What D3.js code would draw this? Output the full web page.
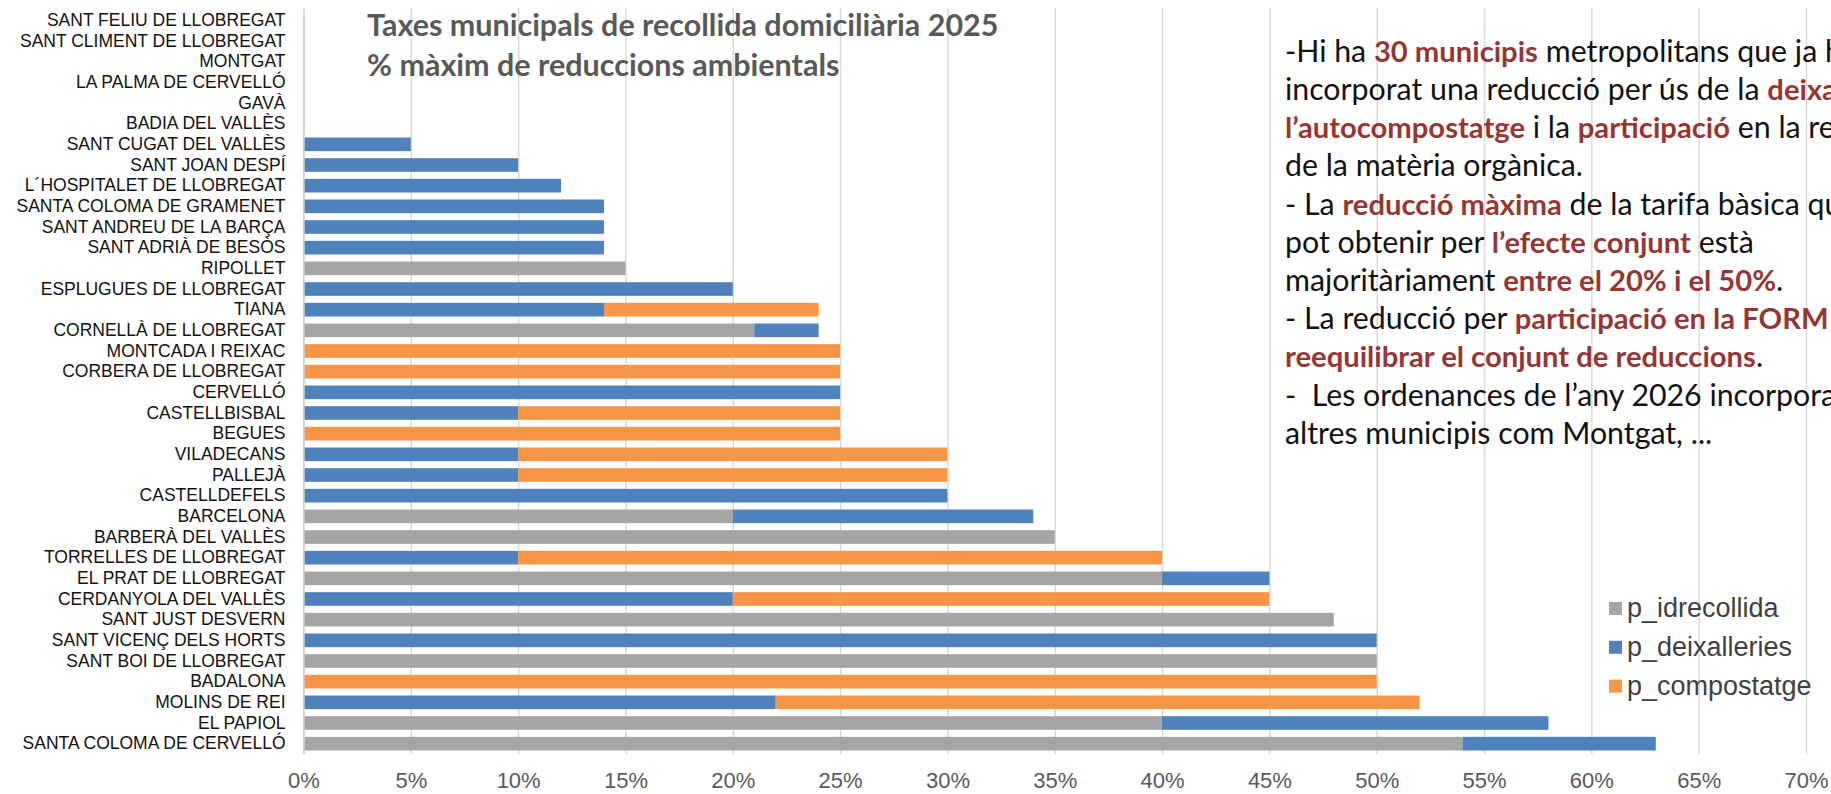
<!DOCTYPE html>
<html>
<head>
<meta charset="utf-8">
<script src="https://cdn.jsdelivr.net/npm/d3@7"></script>
<style>
  html, body { margin: 0; padding: 0; background: #fff; }
  svg { display: block; }
</style>
</head>
<body>
<div id="chart"></div>
<script>
var municipis = [
  "SANT FELIU DE LLOBREGAT", "SANT CLIMENT DE LLOBREGAT", "MONTGAT", "LA PALMA DE CERVELLÓ",
  "GAVÀ", "BADIA DEL VALLÈS", "SANT CUGAT DEL VALLÈS", "SANT JOAN DESPÍ",
  "L´HOSPITALET DE LLOBREGAT", "SANTA COLOMA DE GRAMENET", "SANT ANDREU DE LA BARÇA", "SANT ADRIÀ DE BESÒS",
  "RIPOLLET", "ESPLUGUES DE LLOBREGAT", "TIANA", "CORNELLÀ DE LLOBREGAT",
  "MONTCADA I REIXAC", "CORBERA DE LLOBREGAT", "CERVELLÓ", "CASTELLBISBAL",
  "BEGUES", "VILADECANS", "PALLEJÀ", "CASTELLDEFELS",
  "BARCELONA", "BARBERÀ DEL VALLÈS", "TORRELLES DE LLOBREGAT", "EL PRAT DE LLOBREGAT",
  "CERDANYOLA DEL VALLÈS", "SANT JUST DESVERN", "SANT VICENÇ DELS HORTS", "SANT BOI DE LLOBREGAT",
  "BADALONA", "MOLINS DE REI", "EL PAPIOL", "SANTA COLOMA DE CERVELLÓ"
];
var pIdrecollida  = [0,0,0,0,0,0, 0,0,0,0,0,0, 15,0,0,21, 0,0,0,0, 0,0,0,0, 20,35,0,40, 0,48,0,50, 0,0,40,54];
var pDeixalleries = [0,0,0,0,0,0, 5,10,12,14,14,14, 0,20,14,3, 0,0,25,10, 0,10,10,30, 14,0,10,5, 20,0,50,0, 0,22,18,9];
var pCompostatge  = [0,0,0,0,0,0, 0,0,0,0,0,0, 0,0,10,0, 25,25,0,15, 25,20,20,0, 0,0,30,0, 25,0,0,0, 50,30,0,0];
var series = ["p_idrecollida", "p_deixalleries", "p_compostatge"];
var colors = ["#a5a5a5", "#4f81bd", "#f79646"];
var xTicks = [0,5,10,15,20,25,30,35,40,45,50,55,60,65,70];
var titleLines = ["Taxes municipals de recollida domiciliària 2025", "% màxim de reduccions ambientals"];

// text block on the right: [text, highlighted?]
var notes = [
  [["-Hi ha ", 0], ["30 municipis", 1], [" metropolitans que ja han", 0]],
  [["incorporat una reducció per ús de la ", 0], ["deixalleria,", 1]],
  [["l’autocompostatge", 1], [" i la ", 0], ["participació", 1], [" en la recollida", 0]],
  [["de la matèria orgànica.", 0]],
  [["- La ", 0], ["reducció màxima", 1], [" de la tarifa bàsica que es", 0]],
  [["pot obtenir per ", 0], ["l’efecte conjunt", 1], [" està", 0]],
  [["majoritàriament ", 0], ["entre el 20% i el 50%", 1], [".", 0]],
  [["- La reducció per ", 0], ["participació en la FORM", 1]],
  [["reequilibrar el conjunt de reduccions", 1], [".", 0]],
  [["-  Les ordenances de l’any 2026 incorporaran", 0]],
  [["altres municipis com Montgat, ...", 0]]
];

var W = 1831, H = 794;
var svg = d3.select("#chart").append("svg").attr("width", W).attr("height", H);

var x = d3.scaleLinear().domain([0, 70]).range([303.5, 1806]);
var y = d3.scaleBand().domain(municipis).range([10, 754]).paddingInner(0.34).paddingOuter(0.17);

var rows = municipis.map(function(m, i) {
  return {name: m, p_idrecollida: pIdrecollida[i], p_deixalleries: pDeixalleries[i], p_compostatge: pCompostatge[i]};
});
var stacked = d3.stack().keys(series)(rows);

// gridlines
svg.append("g")
  .attr("transform", "translate(0,754)")
  .call(d3.axisBottom(x).tickValues(xTicks).tickSize(-746).tickFormat(""))
  .call(function(g) {
    g.select(".domain").remove();
    g.selectAll("line").attr("stroke", "#d9d9d9").attr("stroke-width", 1.5);
  });

svg.append("g").selectAll("g").data(stacked).enter().append("g")
  .attr("fill", function(d, i) { return colors[i]; })
  .selectAll("rect").data(function(d) { return d; }).enter().append("rect")
  .attr("x", function(d) { return x(d[0]); })
  .attr("y", function(d) { return y(d.data.name); })
  .attr("width", function(d) { return x(d[1]) - x(d[0]); })
  .attr("height", y.bandwidth());

// x axis labels
svg.append("g")
  .attr("transform", "translate(0,769)")
  .call(d3.axisBottom(x).tickValues(xTicks).tickSize(0).tickFormat(function(d) { return d + "%"; }))
  .call(function(g) {
    g.select(".domain").remove();
    g.selectAll("text").attr("fill", "#595959").attr("font-size", 22)
      .attr("font-family", "'Liberation Sans', Arial, sans-serif");
  });

// category labels
svg.append("g")
  .attr("transform", "translate(303.5,0)")
  .call(d3.axisLeft(y).tickSize(0).tickPadding(18))
  .call(function(g) {
    g.select(".domain").attr("stroke", "#d0d0d0").attr("stroke-width", 1.5);
    g.selectAll("text").attr("fill", "#111").attr("font-size", 17.5)
      .attr("font-family", "'Liberation Sans', Arial, sans-serif");
  });

// title
svg.append("g").selectAll("text").data(titleLines).enter().append("text")
  .attr("x", 367)
  .attr("y", function(d, i) { return 36 + i * 40; })
  .attr("font-family", "Lato, 'Open Sans', sans-serif")
  .attr("font-weight", "bold")
  .attr("font-size", 30.5)
  .attr("fill", "#595959")
  .text(function(d) { return d; });

// legend
var legend = svg.append("g").selectAll("g").data(series).enter().append("g")
  .attr("transform", function(d, i) { return "translate(1609," + (608.5 + i * 38.8) + ")"; });
legend.append("rect")
  .attr("y", -6.5).attr("width", 13).attr("height", 13)
  .attr("fill", function(d, i) { return colors[i]; });
legend.append("text")
  .attr("x", 18).attr("y", 8.5)
  .attr("font-family", "'Liberation Sans', Arial, sans-serif")
  .attr("font-size", 27)
  .attr("fill", "#404040")
  .text(function(d) { return d; });

// notes
var note = svg.append("g").selectAll("text").data(notes).enter().append("text")
  .attr("x", 1285)
  .attr("y", function(d, i) { return 61.7 + i * 38.2; })
  .attr("font-family", "Lato, 'Open Sans', sans-serif")
  .attr("fill", "#111")
  .style("white-space", "pre");
note.selectAll("tspan").data(function(d) { return d; }).enter().append("tspan")
  .attr("font-weight", function(d) { return d[1] ? "bold" : "normal"; })
  .attr("font-size", function(d) { return d[1] ? 29.2 : 30.3; })
  .attr("fill", function(d) { return d[1] ? "#963634" : "#111"; })
  .text(function(d) { return d[0]; });
</script>
</body>
</html>
